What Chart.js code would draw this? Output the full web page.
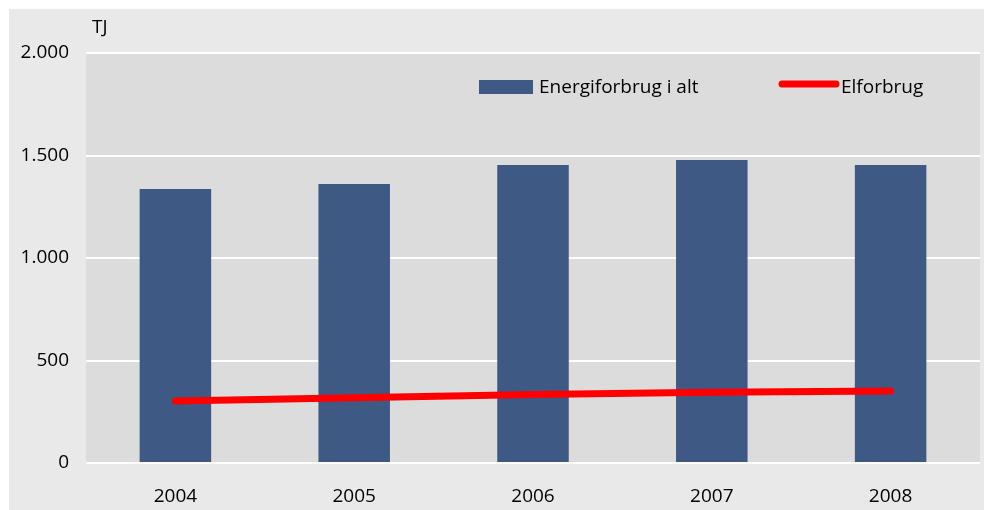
<!DOCTYPE html>
<html>
<head>
<meta charset="UTF-8">
<title>Energiforbrug</title>
<style>
body { margin: 0; background: #ffffff; }
#wrap { width: 985px; height: 510px; }
</style>
</head>
<body>
<div id="wrap"><canvas id="myChart" width="985" height="510"></canvas></div>
<script src="https://cdn.jsdelivr.net/npm/chart.js@4"></script>
<script>
// data
var years = ['2004', '2005', '2006', '2007', '2008'];
var energiforbrug = [1337, 1361, 1454, 1478, 1454];
var elforbrug = [302, 318, 334, 345, 351];
var yTicks = [0, 500, 1000, 1500, 2000];
var unitLabel = 'TJ';

var FONT = "'Open Sans', sans-serif";

// grey panels behind, unit text and the legend inside the plot
var backdrop = {
	id: 'backdrop',
	beforeDraw: function(chart) {
		var c = chart.ctx, a = chart.chartArea;
		c.save();
		c.fillStyle = '#ffffff';
		c.fillRect(0, 0, chart.width, chart.height);
		c.fillStyle = '#e9e9e9';
		c.fillRect(9, 9, 975, 501);
		c.fillStyle = '#dcdcdc';
		c.fillRect(a.left, a.top, a.right - a.left, a.bottom - a.top);
		c.restore();
	},
	afterDraw: function(chart) {
		var c = chart.ctx;
		var bars = chart.data.datasets[1];
		var line = chart.data.datasets[0];
		c.save();
		c.font = '19px ' + FONT;
		c.fillStyle = '#000000';
		c.textBaseline = 'middle';
		c.textAlign = 'left';
		c.fillText(unitLabel, 92, 28);
		// legend
		c.fillStyle = bars.backgroundColor;
		c.fillRect(479, 80, 54, 14);
		c.fillStyle = '#000000';
		c.fillText(bars.label, 539, 88);
		c.strokeStyle = line.borderColor;
		c.lineWidth = 7;
		c.lineCap = 'round';
		c.beginPath();
		c.moveTo(782, 84);
		c.lineTo(836, 84);
		c.stroke();
		c.fillText(line.label, 841, 88);
		c.restore();
	}
};

var ctx = document.getElementById('myChart').getContext('2d');
var chart = new Chart(ctx, {
	type: 'bar',
	data: {
		labels: years,
		datasets: [{
			type: 'line',
			label: 'Elforbrug',
			data: elforbrug,
			borderColor: '#ff0000',
			borderWidth: 7,
			borderCapStyle: 'round',
			pointRadius: 0,
			tension: 0,
			order: 0
		}, {
			label: 'Energiforbrug i alt',
			data: energiforbrug,
			backgroundColor: '#3f5985',
			barPercentage: 0.4,
			categoryPercentage: 1.0,
			order: 1
		}]
	},
	plugins: [backdrop],
	options: {
		responsive: false,
		animation: false,
		layout: { padding: { top: 53, right: 5, left: 0, bottom: 0 } },
		plugins: {
			legend: { display: false },
			tooltip: { enabled: false }
		},
		scales: {
			x: {
				grid: { display: false, drawTicks: false },
				border: { display: false },
				ticks: {
					color: '#000000',
					font: { family: FONT, size: 19 },
					padding: 22
				},
				afterFit: function(scale) { scale.height = 47; }
			},
			y: {
				min: 0,
				max: 2000,
				afterBuildTicks: function(scale) {
					scale.ticks = yTicks.map(function(v) { return { value: v }; });
				},
				grid: { color: '#ffffff', lineWidth: 2, drawTicks: false },
				border: { display: false },
				ticks: {
					color: '#000000',
					font: { family: FONT, size: 19 },
					padding: 17,
					callback: function(v) {
						return v.toString().replace(/\B(?=(\d{3})+(?!\d))/g, '.');
					}
				},
				afterFit: function(scale) { scale.width = 86; }
			}
		}
	}
});
</script>
</body>
</html>
